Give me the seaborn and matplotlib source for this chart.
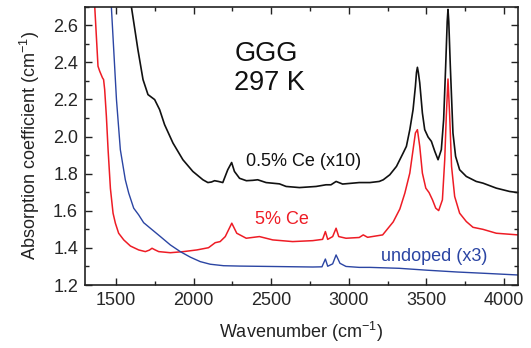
import numpy as np
import pandas as pd
import matplotlib
matplotlib.use("Agg")
import matplotlib.pyplot as plt
from matplotlib.ticker import MultipleLocator
import seaborn as sns

# ---- data ----
wn_black = [1575, 1599, 1641, 1674, 1706, 1749, 1781, 1813, 1867, 1931, 1995, 2060, 2092, 2115,
            2135, 2160, 2188, 2220, 2245, 2263, 2296, 2340, 2381, 2413, 2467, 2553, 2596, 2682,
            2789, 2853, 2885, 2918, 2960, 3067, 3136, 3196, 3222, 3264, 3307, 3350, 3371, 3393,
            3414, 3429, 3436, 3442, 3448, 3457, 3474, 3489, 3511, 3532, 3554, 3575, 3596, 3611,
            3624, 3634, 3639, 3644, 3654, 3671, 3688, 3714, 3757, 3821, 3864, 3950, 4036, 4090]
abs_black = [2.95, 2.70, 2.469, 2.307, 2.226, 2.199, 2.145, 2.064, 1.965, 1.875, 1.812, 1.767, 1.752, 1.755,
             1.762, 1.758, 1.752, 1.821, 1.860, 1.812, 1.775, 1.762, 1.764, 1.767, 1.752, 1.745, 1.731, 1.725,
             1.731, 1.740, 1.740, 1.758, 1.744, 1.752, 1.752, 1.758, 1.767, 1.794, 1.839, 1.911, 1.947, 2.037,
             2.145, 2.270, 2.345, 2.373, 2.345, 2.289, 2.127, 2.037, 1.997, 1.974, 1.920, 1.875, 1.929, 2.091,
             2.379, 2.620, 2.685, 2.620, 2.379, 2.019, 1.893, 1.821, 1.785, 1.758, 1.749, 1.722, 1.704, 1.698]

wn_red = [1355, 1363, 1384, 1395, 1413, 1420, 1427, 1438, 1449, 1464, 1481, 1496, 1517, 1550, 1593,
          1646, 1689, 1715, 1732, 1750, 1775, 1850, 1935, 2021, 2096, 2139, 2171, 2204, 2246, 2278,
          2339, 2424, 2510, 2638, 2767, 2831, 2849, 2864, 2896, 2918, 2935, 2982, 3067, 3093, 3121,
          3218, 3286, 3329, 3361, 3393, 3414, 3429, 3442, 3457, 3474, 3496, 3517, 3539, 3560, 3579,
          3603, 3618, 3628, 3639, 3650, 3662, 3682, 3714, 3757, 3800, 3864, 3950, 4090]
abs_red = [2.95, 2.70, 2.379, 2.352, 2.316, 2.307, 2.253, 2.109, 1.929, 1.720, 1.587, 1.533, 1.479, 1.443, 1.410,
           1.389, 1.380, 1.388, 1.398, 1.390, 1.380, 1.374, 1.380, 1.389, 1.401, 1.428, 1.434, 1.461, 1.533, 1.479,
           1.452, 1.461, 1.443, 1.434, 1.439, 1.446, 1.488, 1.446, 1.461, 1.506, 1.461, 1.452, 1.456, 1.470, 1.457,
           1.470, 1.540, 1.610, 1.695, 1.803, 1.929, 2.019, 2.037, 1.947, 1.803, 1.722, 1.698, 1.659, 1.614, 1.601,
           1.659, 1.875, 2.109, 2.310, 2.109, 1.839, 1.677, 1.587, 1.542, 1.511, 1.500, 1.479, 1.470]

wn_blue = [1455, 1470, 1503, 1528, 1560, 1582, 1614, 1646, 1678, 1721, 1786, 1850, 1914, 1979, 2043,
           2107, 2193, 2296, 2489, 2767, 2827, 2849, 2864, 2896, 2918, 2943, 2982, 3067, 3136, 3325,
           3500, 3700, 3900, 4090]
abs_blue = [2.95, 2.70, 2.199, 1.929, 1.767, 1.695, 1.614, 1.578, 1.536, 1.506, 1.461, 1.416, 1.380, 1.350, 1.326,
            1.312, 1.304, 1.302, 1.300, 1.297, 1.298, 1.340, 1.301, 1.314, 1.362, 1.317, 1.300, 1.295, 1.295, 1.290,
            1.280, 1.270, 1.262, 1.254]

series_labels = ["0.5% Ce (x10)", "5% Ce", "undoped (x3)"]
x_ticks = [1500, 2000, 2500, 3000, 3500, 4000]
y_ticks = [1.2, 1.4, 1.6, 1.8, 2.0, 2.2, 2.4, 2.6]

# ---- styling ----
sns.set_theme(style="ticks")
plt.rcParams['font.family'] = ['Liberation Sans', 'DejaVu Sans']
plt.rcParams['mathtext.fontset'] = 'custom'
plt.rcParams['mathtext.rm'] = 'Liberation Sans'

fig = plt.figure(figsize=(5.31, 3.48), dpi=100)
ax = fig.add_axes([0.160, 0.181, 0.8155, 0.800])

c_black = "#111111"
c_red = "#ee1c25"
c_blue = "#2b45a3"

sns.lineplot(x=wn_black, y=abs_black, ax=ax, color=c_black, lw=1.2, sort=False, estimator=None)
sns.lineplot(x=wn_red, y=abs_red, ax=ax, color=c_red, lw=1.1, sort=False, estimator=None)
sns.lineplot(x=wn_blue, y=abs_blue, ax=ax, color=c_blue, lw=1.0, sort=False, estimator=None)

ax.set_xlim(1300, 4090)
ax.set_ylim(1.2, 2.7)
ax.set_xticks(x_ticks)
ax.set_yticks(y_ticks)
ax.set_yticklabels([f"{v:.1f}" for v in y_ticks])
ax.xaxis.set_minor_locator(MultipleLocator(250))
ax.yaxis.set_minor_locator(MultipleLocator(0.1))
ax.tick_params(which='both', direction='in', top=True, right=True, labelsize=13,
               color='#222222', width=1.0)
ax.tick_params(which='major', length=5, pad=5)
ax.tick_params(which='minor', length=3)
for s in ax.spines.values():
    s.set_linewidth(1.2)
    s.set_color('#222222')

ax.set_xlabel(r"Wavenumber (cm$^{\mathregular{-1}}$)", fontsize=13, color='#222222', labelpad=8)
ax.set_ylabel(r"Absorption coefficient (cm$^{\mathregular{-1}}$)", fontsize=13, color='#222222', labelpad=8)

ax.text(2262, 2.365, "GGG\n297 K", fontsize=19.5, color='#111111', ha='left', va='center',
        linespacing=1.15)
ax.text(2710, 1.866, series_labels[0], fontsize=13, color=c_black, ha='center', va='center')
ax.text(2569, 1.551, series_labels[1], fontsize=13, color=c_red, ha='center', va='center')
ax.text(3550, 1.353, series_labels[2], fontsize=13, color=c_blue, ha='center', va='center')

fig.savefig("out.png", dpi=100)
